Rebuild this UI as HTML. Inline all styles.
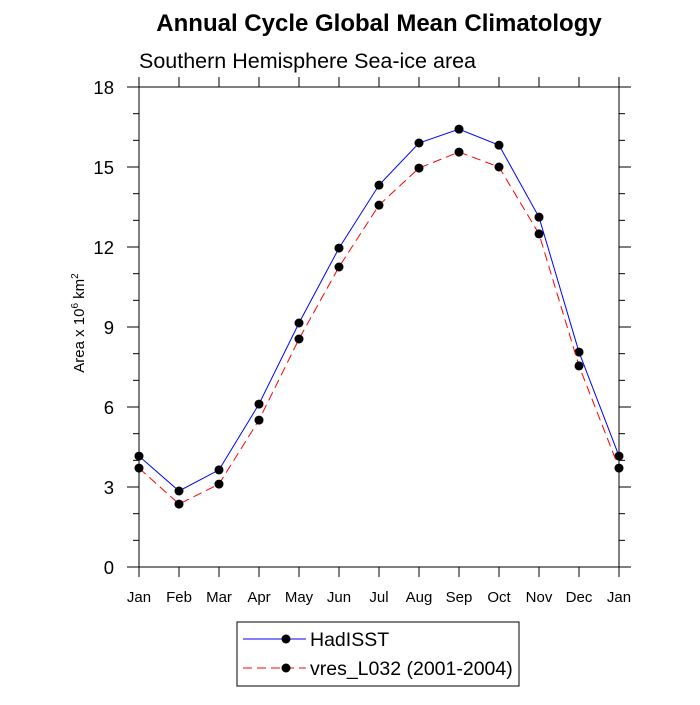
<!DOCTYPE html>
<html><head><meta charset="utf-8"><style>
body{margin:0;background:#fff}
svg text{font-family:"Liberation Sans",sans-serif;fill:#000}
</style></head><body>
<svg id="chart" width="700" height="700">
<text x="379" y="31" font-size="24" font-weight="bold" text-anchor="middle">Annual Cycle Global Mean Climatology</text>
<text x="139" y="68" font-size="21.5">Southern Hemisphere Sea-ice area</text>
<text transform="translate(84,323) rotate(-90)" font-size="15" text-anchor="middle">Area x 10<tspan font-size="10" dy="-6">6</tspan><tspan dy="6"> km</tspan><tspan font-size="10" dy="-6">2</tspan></text>
<g id="axes"></g>
<g id="series"></g>
<g>
<rect x="237" y="622" width="282" height="64" fill="none" stroke="#000"/>
<g>
<line x1="243" y1="639" x2="306" y2="639" stroke="#00f"/><circle cx="286" cy="639" r="4.5"/>
<text x="310" y="646" font-size="19.5">HadISST</text></g>
<g>
<line x1="243" y1="668" x2="306" y2="668" stroke="#f00" stroke-dasharray="9,5"/><circle cx="286" cy="668" r="4.5"/>
<text x="310" y="675" font-size="19.5">vres_L032 (2001-2004)</text></g>
</g>
</svg>
<script>
const months=["Jan","Feb","Mar","Apr","May","Jun","Jul","Aug","Sep","Oct","Nov","Dec","Jan"];
const hadisst=[4.16,2.85,3.64,6.11,9.15,11.96,14.32,15.9,16.42,15.82,13.12,8.06,4.16];
const vres=[3.71,2.36,3.11,5.51,8.55,11.25,13.57,14.96,15.56,15.0,12.49,7.54,3.71];
const yTicks=[0,3,6,9,12,15,18];
const NS="http://www.w3.org/2000/svg";
const L=139,R=619,T=87,B=567;
const xs=i=>L+i*(R-L)/(months.length-1);
const ys=v=>B-v*(B-T)/18;
function mk(t,a,p){const e=document.createElementNS(NS,t);for(const k in a)e.setAttribute(k,a[k]);p.appendChild(e);return e;}
const ax=document.getElementById('axes');
const frame=mk('rect',{x:L,y:T,width:R-L,height:B-T,fill:'none',stroke:'#000'},ax);


months.forEach((m,i)=>{const x=xs(i);
mk('line',{x1:x,y1:B,x2:x,y2:B+10,stroke:'#000'},ax);
mk('line',{x1:x,y1:T,x2:x,y2:T-10,stroke:'#000'},ax);
const t=mk('text',{x:x,y:B+35,'font-size':15,'text-anchor':'middle'},ax);t.textContent=m;

});
for(let v=0;v<=18;v++){const y=ys(v);const maj=v%3===0;const len=maj?12:6;
mk('line',{x1:L,y1:y,x2:L-len,y2:y,stroke:'#000'},ax);
mk('line',{x1:R,y1:y,x2:R+len,y2:y,stroke:'#000'},ax);}
yTicks.forEach(v=>{const t=mk('text',{x:L-25,y:ys(v)+7,'font-size':18.5,'text-anchor':'end'},ax);t.textContent=v;

});
const sg=document.getElementById('series');
function series(d,col,dash,name){const g=mk('g',{},sg);


const a={points:d.map((v,i)=>xs(i)+','+ys(v)).join(' '),fill:'none',stroke:col,'stroke-width':1};
if(dash)a['stroke-dasharray']=dash;mk('polyline',a,g);
d.forEach((v,i)=>{const c=mk('circle',{cx:xs(i),cy:ys(v),r:4.5},g);

});}
series(hadisst,'#00f',null,'series-hadisst');
series(vres,'#f00','9,5','series-vres');
</script>
</body></html>
